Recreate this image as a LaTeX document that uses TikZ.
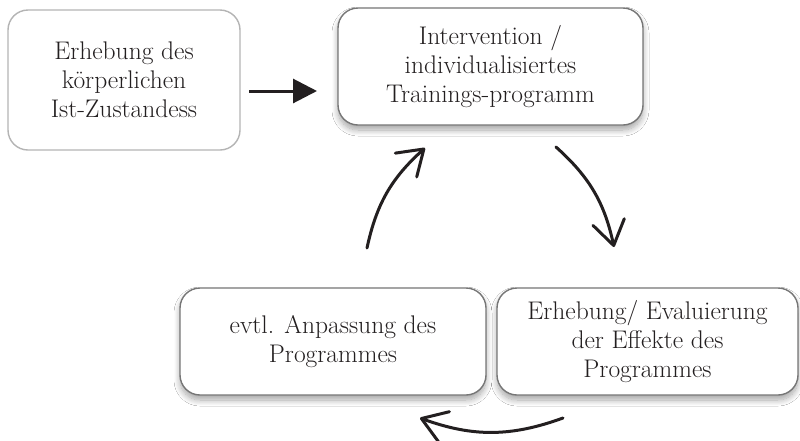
\documentclass[tikz,border=0pt]{standalone}
\usetikzlibrary{arrows.meta,shadows.blur}
\definecolor{ink}{HTML}{231F20}
\definecolor{rimlight}{HTML}{B4B4B4}
\definecolor{rimdark}{HTML}{767676}
\begin{document}
\begin{tikzpicture}[x=1pt,y=-1pt,
  box/.style={draw=rimdark, line width=1.4pt, rounded corners=20pt, fill=white,
    align=center, text=ink, inner sep=0pt,
    font=\fontsize{25.5}{29}\selectfont},
  boxshade/.style={box, blur shadow={shadow xshift=0pt, shadow yshift=-5pt,
    shadow blur radius=6pt, shadow blur steps=10, shadow opacity=35}},
  cyc/.style={draw=ink, line width=3pt, line cap=round,
    -{Straight Barb[length=24pt,width=32pt,line cap=round,round]}},
  lead/.style={draw=ink, line width=3pt,
    -{Triangle[length=24pt,width=24pt]}}]
  \fill[white] (0,0) rectangle (800,440);
  \useasboundingbox (0,0) rectangle (800,440);
  \clip (0,0) rectangle (800,440);

  % boxes
  \node[box, draw=rimlight, minimum width=232pt, minimum height=140pt]
    (start) at (124,80) {Erhebung des\\körperlichen\\Ist-Zustandess};
  \node[boxshade, minimum width=305pt, minimum height=117pt]
    (interv) at (490.5,66.5) {Intervention /\\individualisiertes\\Trainings-programm};
  \node[boxshade, minimum width=306pt, minimum height=107pt]
    (adapt) at (333,341.5) {evtl. Anpassung des\\Programmes};
  \node[boxshade, minimum width=301pt, minimum height=107pt]
    (eval) at (647.5,341.5) {Erhebung/ Evaluierung\\der Effekte des\\Programmes};

  % arrow ends
  \coordinate (s0) at (249,91);
  \coordinate (e0) at (317,91);
  \coordinate (s1) at (556,147);
  \coordinate (e1) at (614,247);
  \coordinate (s2) at (563,418);
  \coordinate (e2) at (420,418);
  \coordinate (s3) at (367,248);
  \coordinate (e3) at (425,148);

  % connectors
  \draw[lead] (s0) -- (e0);
  \draw[cyc] (s1) to[bend left=18] (e1);
  \draw[cyc] (s2) to[bend left=20] (e2);
  \draw[cyc] (s3) to[bend left=18] (e3);
\end{tikzpicture}
\end{document}
